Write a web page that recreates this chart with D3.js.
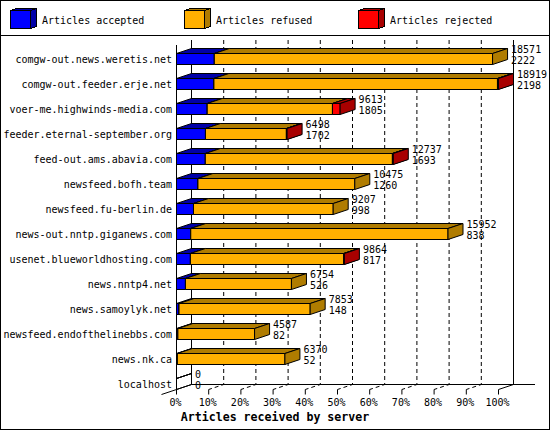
<!DOCTYPE html>
<html>
<head>
<meta charset="utf-8">
<script src="https://cdn.jsdelivr.net/npm/d3@7"></script>
<style>
  body { margin: 0; background: #fff; }
  svg { display: block; }
  text { font-family: "DejaVu Sans Mono", monospace; font-size: 10px; fill: #000; }
</style>
</head>
<body>
<script>
// servers feeding articles, with counts
var hosts = [
  "comgw-out.news.weretis.net", "comgw-out.feeder.erje.net", "voer-me.highwinds-media.com",
  "feeder.eternal-september.org", "feed-out.ams.abavia.com", "newsfeed.bofh.team",
  "newsfeed.fu-berlin.de", "news-out.nntp.giganews.com", "usenet.blueworldhosting.com",
  "news.nntp4.net", "news.samoylyk.net", "newsfeed.endofthelinebbs.com", "news.nk.ca", "localhost"
];
var totals   = [18571, 18919, 9613, 6498, 12737, 10475, 9207, 15952, 9864, 6754, 7853, 4587, 6370, 0];
var accepted = [2222, 2198, 1805, 1702, 1693, 1260, 998, 838, 817, 526, 148, 82, 52, 0];
var refused  = [16349, 16661, 7358, 4756, 10994, 9215, 8209, 15114, 9007, 6228, 7705, 4505, 6318, 0];
var rejected = [0, 60, 450, 40, 50, 0, 0, 0, 40, 0, 0, 0, 0, 0];

var seriesNames = ["Articles accepted", "Articles refused", "Articles rejected"];
var tickPct = [0, 10, 20, 30, 40, 50, 60, 70, 80, 90, 100];
var tickLabels = ["0%", "10%", "20%", "30%", "40%", "50%", "60%", "70%", "80%", "90%", "100%"];
var axisTitle = "Articles received by server";

var keys = ["accepted", "refused", "rejected"];
var frontColor = {accepted: "#0000ff", refused: "#ffb000", rejected: "#ff0000"};
var shadeColor = {accepted: "#0000a8", refused: "#b07c00", rejected: "#a80000"};

var width = 550, height = 430;
var dx = 15, dy = 5;          // depth of the 3d bars
var plotTop = 40;

var svg = d3.select("body").append("svg")
    .attr("width", width)
    .attr("height", height);

svg.append("rect")
    .attr("x", 0.5).attr("y", 0.5)
    .attr("width", width - 1).attr("height", height - 1)
    .attr("fill", "#fff").attr("stroke", "#000");

svg.append("line")
    .attr("x1", 0).attr("x2", width)
    .attr("y1", 35.5).attr("y2", 35.5)
    .attr("stroke", "#000");

// legend
function box(g, x0, y0, w, h, d1, d2, key) {
  g.append("path")
      .attr("d", `M${x0},${y0}L${x0 + d1},${y0 - d2}L${x0 + w + d1},${y0 - d2}L${x0 + w},${y0}Z`)
      .attr("fill", shadeColor[key]).attr("stroke", "#000");
  g.append("path")
      .attr("d", `M${x0 + w},${y0}L${x0 + w + d1},${y0 - d2}L${x0 + w + d1},${y0 + h - d2}L${x0 + w},${y0 + h}Z`)
      .attr("fill", shadeColor[key]).attr("stroke", "#000");
  g.append("rect")
      .attr("x", x0).attr("y", y0).attr("width", w).attr("height", h)
      .attr("fill", frontColor[key]).attr("stroke", "#000");
}

var legend = svg.append("g").attr("shape-rendering", "crispEdges");
keys.forEach(function(k, i) {
  var lx = 10.5 + i * 174;
  box(legend, lx, 10.5, 20, 18, 6, 2, k);
  svg.append("text")
      .attr("x", lx + 31.5)
      .attr("y", 24)
      .text(seriesNames[i]);
});

// scales
var rows = hosts.map(function(h, i) {
  return {host: h, total: totals[i], accepted: accepted[i], refused: refused[i], rejected: rejected[i]};
});
var maxTotal = d3.max(totals);
var x = d3.scaleLinear().domain([0, maxTotal]).range([176.5, 498.5]);
var xPct = d3.scaleLinear().domain([0, 100]).range([176.5, 498.5]);
var y = d3.scaleBand().domain(hosts)
    .range([46.5, 396.5])
    .paddingInner(0.56)
    .paddingOuter(0.28);
var bw = y.bandwidth();
var floorY = y(hosts[hosts.length - 1]) + bw;

// back wall grid + floor grid
var grid = svg.append("g").attr("fill", "none").attr("stroke", "#000");
grid.selectAll("path.grid")
    .data(tickPct.slice(1, -1))
    .enter().append("path")
    .attr("class", "grid")
    .attr("stroke-dasharray", "4,3")
    .attr("d", function(p) {
      var xf = xPct(p);
      return `M${xf + dx},${plotTop}L${xf + dx},${floorY - dy}L${xf},${floorY}`;
    });

var frame = svg.append("g").attr("stroke", "#000").attr("fill", "none");
frame.append("path").attr("d", `M${xPct(0) + dx},${plotTop}V${floorY - dy}`);
frame.append("path").attr("d", `M${xPct(100) + dx},${plotTop}V${floorY - dy}L${xPct(100)},${floorY}`);
frame.append("path").attr("d", `M${xPct(0) + dx},${floorY - dy}H535`);
frame.append("path").attr("d", `M${xPct(0) - dx},${floorY + dy}L${xPct(0) + dx},${floorY - dy}`);
frame.append("path").attr("d", `M${xPct(0)},45V${floorY}`);

// bars
var stacked = d3.stack().keys(keys)(rows);
var segments = [];
rows.forEach(function(r, i) {
  keys.forEach(function(k, j) {
    var s = stacked[j][i];
    if (s[1] > s[0] || (r.total === 0 && j === 0)) {
      segments.push({key: k, host: r.host, v0: s[0], v1: s[1], empty: r.total === 0});
    }
  });
});

var seg = svg.append("g").selectAll("g.seg")
    .data(segments)
    .enter().append("g")
    .attr("class", "seg")
    .attr("stroke", "#000");

seg.append("path")
    .attr("fill", d => d.empty ? "none" : frontColor[d.key])
    .attr("d", function(d) {
      var a = x(d.v0), b = x(d.v1), t = y(d.host), u = t + bw;
      return `M${a},${t}H${b}V${u}H${a}Z`;
    });
seg.append("path")
    .attr("fill", d => d.empty ? "none" : shadeColor[d.key])
    .attr("d", function(d) {
      var a = x(d.v0), b = x(d.v1), t = y(d.host);
      return `M${a},${t}L${a + dx},${t - dy}H${b + dx}L${b},${t}Z`;
    });
seg.append("path")
    .attr("fill", d => d.empty ? "none" : shadeColor[d.key])
    .attr("d", function(d) {
      var b = x(d.v1), t = y(d.host), u = t + bw;
      return `M${b},${t}L${b + dx},${t - dy}V${u - dy}L${b},${u}Z`;
    });

// value labels
var vals = svg.append("g");
rows.forEach(function(r) {
  var lx = x(r.total) + dx + 3.5;
  var c = y(r.host) + bw / 2;
  vals.append("text").attr("x", lx).attr("y", c - 6).text(r.total);
  vals.append("text").attr("x", lx).attr("y", c + 5).text(r.accepted);
});

// category labels
svg.append("g").selectAll("text")
    .data(hosts)
    .enter().append("text")
    .attr("x", 172)
    .attr("y", d => y(d) + bw / 2 + 4)
    .attr("text-anchor", "end")
    .text(d => d);

// ticks
svg.append("g").attr("stroke", "#000").selectAll("line")
    .data(tickPct)
    .enter().append("line")
    .attr("x1", d => xPct(d)).attr("x2", d => xPct(d))
    .attr("y1", floorY).attr("y2", floorY + 5);

svg.append("g").selectAll("text")
    .data(tickPct)
    .enter().append("text")
    .attr("x", d => xPct(d) - 1)
    .attr("y", 406)
    .attr("text-anchor", "middle")
    .text((d, i) => tickLabels[i]);

svg.append("text")
    .attr("x", width / 2)
    .attr("y", 421)
    .attr("text-anchor", "middle")
    .style("font-size", "11.6px")
    .style("font-weight", "bold")
    .text(axisTitle);
</script>
</body>
</html>
